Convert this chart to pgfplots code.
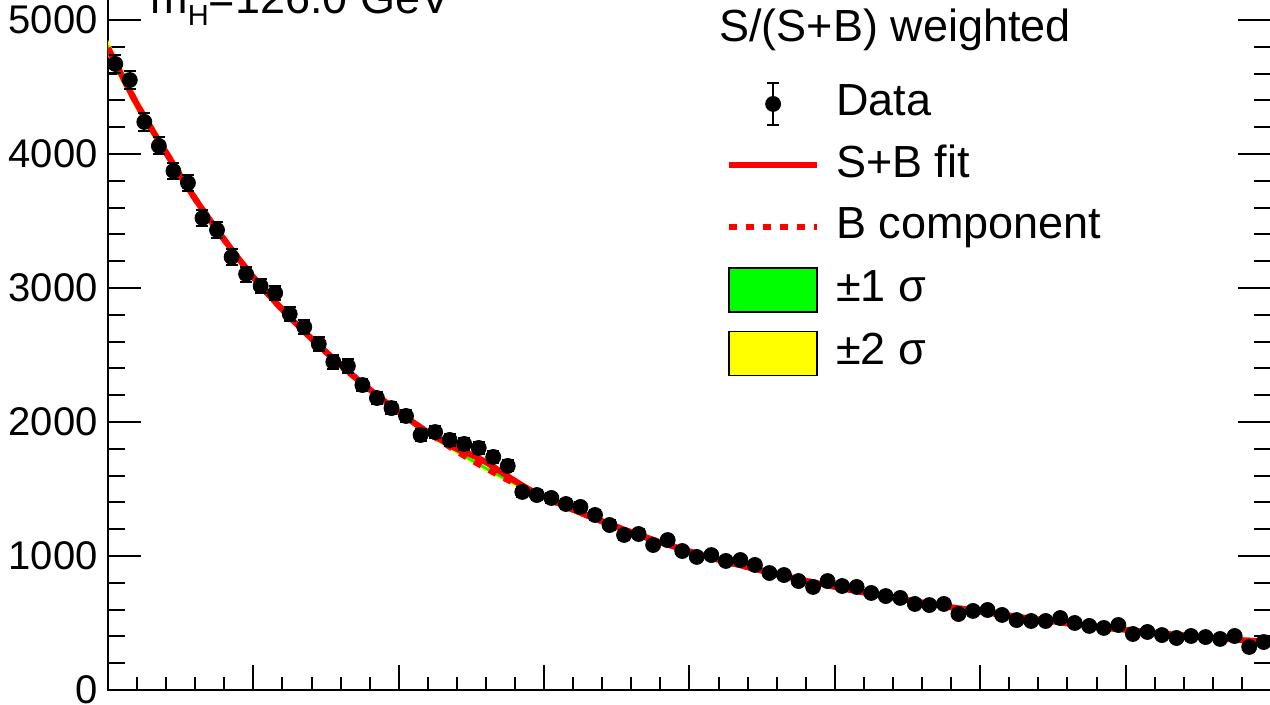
\documentclass[border=0pt]{standalone}
\usepackage{fontspec}
\setmainfont{Liberation Sans}
\usepackage{pgfplots}
\usepackage{pgfplotstable}
\pgfplotsset{compat=1.18}
\usepgfplotslibrary{fillbetween}

\definecolor{rootred}{RGB}{255,0,0}
\definecolor{rootgreen}{RGB}{0,255,0}
\definecolor{rootyellow}{RGB}{255,255,0}

% background component and its 1 sigma half-width
\pgfplotstableread{
x b s
100 4790 30
102 4370 26
104 4010 22
106 3665 19
108 3360 17
110 3080 15
112 2838 14
114 2622 13
116 2425 12
118 2243 12
120 2075 12
122 1922 11
124 1781 11
126 1654 11
128 1540 11
130 1440 11
132 1345 11
134 1258 10
136 1177 10
138 1102 10
140 1034 10
142 972 10
144 917 10
146 865 10
148 815 10
150 770 9
152 728 9
154 690 9
156 653 9
158 618 9
160 585 9
162 555 9
164 526 9
166 498 9
168 472 8
170 449 8
172 427 8
174 407 8
176 389 8
178 372 8
180 356 8
}\bkg

% signal + background fit
\pgfplotstableread{
x y
100 4790
102 4370
104 4010
106 3665
108 3360
110 3080
112 2838
114 2622
116 2425
118 2243
120 2075
122 1923
123 1860
124 1800
125 1755
126 1700
127 1630
128 1560
129 1495
130 1442
132 1345
134 1258
136 1177
138 1102
140 1034
142 972
144 917
146 865
148 815
150 770
152 728
154 690
156 653
158 618
160 585
162 555
164 526
166 498
168 472
170 449
172 427
174 407
176 389
178 372
180 356
}\sbfit

% weighted data
\pgfplotstableread{
x y e
100.5 4672 68.4
101.5 4552 67.5
102.5 4239 65.1
103.5 4060 63.7
104.5 3873 62.2
105.5 3784 61.5
106.5 3522 59.3
107.5 3433 58.6
108.5 3231 56.8
109.5 3104 55.7
110.5 3015 54.9
111.5 2963 54.4
112.5 2806 53.0
113.5 2709 52.0
114.5 2582 50.8
115.5 2448 49.5
116.5 2418 49.2
117.5 2276 47.7
118.5 2179 46.7
119.5 2104 45.9
120.5 2045 45.2
121.5 1903 43.6
122.5 1925 43.9
123.5 1866 43.2
124.5 1836 42.8
125.5 1806 42.5
126.5 1739 41.7
127.5 1672 40.9
128.5 1478 38.4
129.5 1455 38.1
130.5 1433 37.9
131.5 1388 37.3
132.5 1366 37.0
133.5 1306 36.1
134.5 1231 35.1
135.5 1157 34.0
136.5 1164 34.1
137.5 1082 32.9
138.5 1119 33.5
139.5 1037 32.2
140.5 993 31.5
141.5 1007 31.7
142.5 963 31.0
143.5 970 31.1
144.5 933 30.5
145.5 873 29.5
146.5 858 29.3
147.5 813 28.5
148.5 769 27.7
149.5 813 28.5
150.5 776 27.9
151.5 769 27.7
152.5 724 26.9
153.5 701 26.5
154.5 687 26.2
155.5 642 25.3
156.5 634 25.2
157.5 642 25.3
158.5 567 23.8
159.5 590 24.3
160.5 597 24.4
161.5 560 23.7
162.5 522 22.8
163.5 515 22.7
164.5 515 22.7
165.5 537 23.2
166.5 500 22.4
167.5 478 21.9
168.5 463 21.5
169.5 485 22.0
170.5 418 20.4
171.5 433 20.8
172.5 410 20.2
173.5 388 19.7
174.5 403 20.1
175.5 395 19.9
176.5 381 19.5
177.5 403 20.1
178.5 321 17.9
179.5 358 18.9
}\data

\begin{document}
\begin{tikzpicture}
\begin{axis}[
  at={(0,0)}, anchor=south west,
  scale only axis, width=581.5pt, height=368.5pt,
  xmin=100, xmax=180, ymin=0, ymax=5500,
  xtick={100,110,...,180}, minor x tick num=4, xticklabels={},
  ytick={0,1000,...,5000}, minor y tick num=4,
  tick align=inside,
  axis line style={line width=1.3pt},
  every tick/.style={black, line width=1pt},
  major tick length=16.5pt, minor tick length=8.5pt,
  xtick style={/pgfplots/major tick length=12.5pt, /pgfplots/minor tick length=6.25pt},
  /pgf/number format/assume math mode=true,
  /pgf/number format/1000 sep={},
  scaled y ticks=false,
  yticklabel style={font=\fontsize{20}{23}\selectfont, inner sep=0pt, xshift=-5pt},
  legend style={
    at={(axis description cs:0.5315,0.825)}, anchor=north west,
    draw=none, fill=none, inner sep=0pt, outer sep=0pt,
    font=\fontsize{22.5}{27}\selectfont,
    row sep=8.75pt, column sep=8pt,
    nodes={inner sep=0pt, text height=16pt, text depth=5pt},
  },
  legend cell align=left,
]
% +-2 sigma and +-1 sigma bands
\addplot[name path=u2, draw=none, smooth, forget plot] table[x=x, y expr=\thisrow{b}+2*\thisrow{s}] {\bkg};
\addplot[name path=l2, draw=none, smooth, forget plot] table[x=x, y expr=\thisrow{b}-2*\thisrow{s}] {\bkg};
\addplot[fill=rootyellow, draw=none, forget plot] fill between[of=u2 and l2];
\addplot[name path=u1, draw=none, smooth, forget plot] table[x=x, y expr=\thisrow{b}+\thisrow{s}] {\bkg};
\addplot[name path=l1, draw=none, smooth, forget plot] table[x=x, y expr=\thisrow{b}-\thisrow{s}] {\bkg};
\addplot[fill=rootgreen, draw=none, forget plot] fill between[of=u1 and l1];
% B component
\addplot[rootred, line width=3pt, dash pattern=on 4pt off 4.5pt, smooth, forget plot] table[x=x, y=b] {\bkg};
% S+B fit
\addplot[rootred, line width=3pt, smooth, forget plot] table[x=x, y=y] {\sbfit};
% data
\addplot[only marks, mark=*, mark size=3.75pt, black, forget plot,
  error bars/.cd, y dir=both, y explicit,
  error bar style={line width=1pt},
  error mark options={rotate=90, line width=1pt, mark size=3pt}]
  table[x=x, y=y, y error=e] {\data};

\addlegendimage{legend image code/.code={
  \path[draw=none, fill=none] (0pt,-11pt) rectangle (44pt,11pt);
  \draw[black, line width=1pt] (22pt,-10pt)--(22pt,11pt) (19pt,-10pt)--(25pt,-10pt) (19pt,11pt)--(25pt,11pt);
  \fill[black] (22pt,0.5pt) circle (3.75pt);}}
\addlegendentry{Data}
\addlegendimage{legend image code/.code={
  \path[draw=none, fill=none] (0pt,-11pt) rectangle (44pt,11pt);
  \draw[rootred, line width=3pt] (0pt,0.5pt)--(44pt,0.5pt);}}
\addlegendentry{S+B fit}
\addlegendimage{legend image code/.code={
  \path[draw=none, fill=none] (0pt,-11pt) rectangle (44pt,11pt);
  \draw[rootred, line width=3pt, dash pattern=on 4pt off 4.5pt] (0pt,0.5pt)--(44pt,0.5pt);}}
\addlegendentry{B component}
\addlegendimage{legend image code/.code={
  \draw[black, line width=0.8pt, fill=rootgreen] (0pt,-11pt) rectangle (44pt,11pt);}}
\addlegendentry{±1 σ}
\addlegendimage{legend image code/.code={
  \draw[black, line width=0.8pt, fill=rootyellow] (0pt,-11pt) rectangle (44pt,11pt);}}
\addlegendentry{±2 σ}

\node[anchor=base west, inner sep=0pt, font=\fontsize{22.5}{27}\selectfont]
  at (axis cs:142.03,4843) {S/(S+B) weighted};
\node[anchor=base west, inner sep=0pt, font=\fontsize{22.5}{27}\selectfont]
  at (axis cs:102.89,5052) {m\raisebox{-6pt}{\fontsize{14.5}{15}\selectfont H}=126.0 GeV};
\end{axis}
\pgfresetboundingbox
\useasboundingbox (-54pt,-7.5pt) rectangle (581pt,345pt);
\end{tikzpicture}
\end{document}
